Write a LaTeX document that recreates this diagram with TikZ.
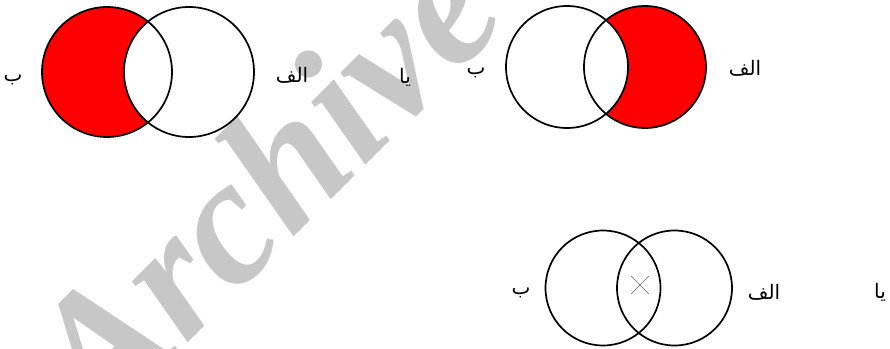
\documentclass[tikz,border=0pt]{standalone}
\usepackage{fontspec}
\TeXXeTstate=1
\newfontfamily\arabicfont[Script=Arabic]{DejaVu Sans}
\newfontfamily\wmfont{Liberation Serif}
\tikzset{
  setline/.style={draw=black, line width=1.7pt},
  shade red/.style={fill=red},
  lbl/.style={font=\arabicfont\fontsize{20}{24}\selectfont, inner sep=0pt},
  markx/.style={draw=black!60, line width=0.5pt},
  watermark/.style={font=\wmfont\bfseries\itshape\fontsize{180}{180}\selectfont, text=black!22, inner sep=0pt}
}
\begin{document}
\begin{tikzpicture}[x=1pt,y=-1pt]
  \useasboundingbox (0,0) rectangle (890,348);
  \fill[white] (0,0) rectangle (890,348);

  % watermark
  \node[watermark, rotate=45] (wm) at (262,182) {Archive};

  % ---- first diagram: left set shaded (B minus A)
  \coordinate (b1) at (107,72);
  \coordinate (a1) at (189,72);
  \fill[shade red] (b1) circle[radius=65];
  \begin{scope}
    \clip (b1) circle[radius=65];
    \fill[white] (a1) circle[radius=65];
  \end{scope}
  \draw[setline] (b1) circle[radius=65];
  \draw[setline] (a1) circle[radius=65];
  \node[lbl] (lb1) at (13,80) {\beginR ب\endR};
  \node[lbl] (la1) at (292,75) {\beginR الف\endR};

  \node[lbl] (or1) at (405,77) {\beginR یا\endR};

  % ---- second diagram: right set shaded (A minus B)
  \coordinate (b2) at (567,67);
  \coordinate (a2) at (645,67);
  \fill[shade red] (a2) circle[radius=61];
  \begin{scope}
    \clip (a2) circle[radius=61];
    \fill[white] (b2) circle[radius=61];
  \end{scope}
  \draw[setline] (b2) circle[radius=61];
  \draw[setline] (a2) circle[radius=61];
  \node[lbl] (lb2) at (476,73) {\beginR ب\endR};
  \node[lbl] (la2) at (745,68) {\beginR الف\endR};

  % ---- third diagram: intersection crossed out
  \coordinate (b3) at (603,288);
  \coordinate (a3) at (674.5,288);
  \draw[setline] (b3) circle[radius=57.5];
  \draw[setline] (a3) circle[radius=57.5];
  \coordinate (x1) at (631,276);
  \coordinate (x2) at (649,294);
  \coordinate (x3) at (631,294);
  \coordinate (x4) at (649,276);
  \draw[markx] (x1) -- (x2);
  \draw[markx] (x3) -- (x4);
  \node[lbl] (lb3) at (521,293) {\beginR ب\endR};
  \node[lbl] (la3) at (764,292) {\beginR الف\endR};

  \node[lbl] (or2) at (880,292) {\beginR یا\endR};
\end{tikzpicture}
\end{document}
